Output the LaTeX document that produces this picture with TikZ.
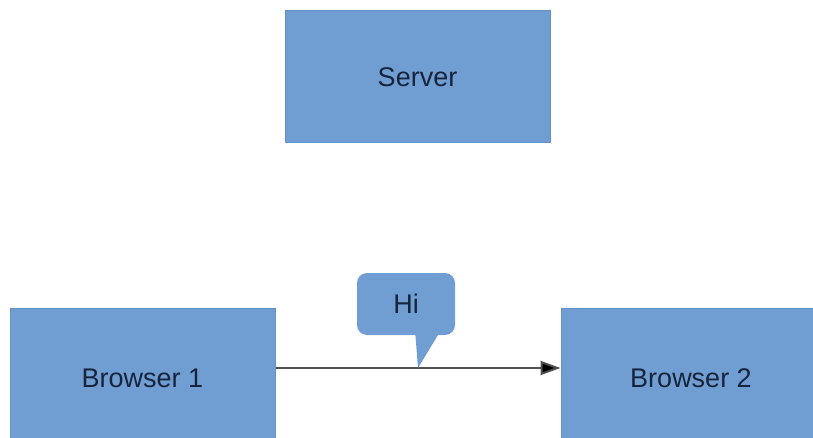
\documentclass[tikz,border=0pt]{standalone}
\usepackage{fontspec}
\setmainfont{Liberation Sans}
\usetikzlibrary{arrows.meta}
\definecolor{boxfill}{RGB}{112,158,210}
\definecolor{boxedge}{RGB}{100,145,198}
\definecolor{boxtext}{RGB}{22,36,60}
\definecolor{linegray}{RGB}{80,80,80}
\tikzset{
  box/.style={draw=boxedge, line width=1pt, fill=boxfill, text=boxtext,
    font=\fontsize{27}{30}\selectfont, inner sep=0pt},
  bubble/.style={fill=boxfill, text=boxtext, rounded corners=10pt,
    font=\fontsize{27}{30}\selectfont, inner sep=0pt,
    minimum width=98pt, minimum height=62pt},
  msg/.style={draw=linegray, line width=2pt,
    -{Triangle[length=20pt,width=14pt,fill=black]}}
}
\begin{document}
\begin{tikzpicture}[x=1pt,y=-1pt]
  \useasboundingbox (0,0) rectangle (813,438);
  % boxes
  \node[box, minimum width=265pt, minimum height=132pt] (server) at (417.5,77) {Server};
  \node[box, minimum width=265pt, minimum height=140pt] (b1) at (142.5,378) {Browser 1};
  \node[box, minimum width=260pt, minimum height=140pt] (b2) at (691,378) {Browser 2};
  % message line
  \coordinate (tip) at (418,368);
  \draw[msg] (b1.east |- tip) -- (b2.west |- tip);
  % speech bubble
  \fill[boxfill] (415,330) -- (tip) -- (441,330) -- cycle;
  \node[bubble] (hi) at (406,304) {Hi};
\end{tikzpicture}
\end{document}
